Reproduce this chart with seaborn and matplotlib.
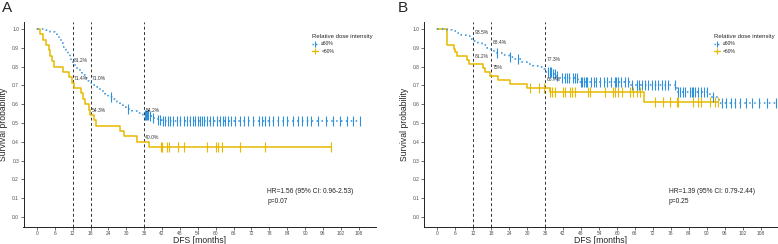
import numpy as np
import pandas as pd
import matplotlib
matplotlib.use("Agg")
import matplotlib.pyplot as plt
from matplotlib.lines import Line2D
import seaborn as sns

# ---------------- data ----------------
groups = ["\u226560%", "<60%"]
legend_title = "Relative dose intensity"
x_ticks = [0, 6, 12, 18, 24, 30, 36, 42, 48, 54, 60, 66, 72, 78, 84, 90, 96, 102, 108]
y_ticks = [0.0, 0.1, 0.2, 0.3, 0.4, 0.5, 0.6, 0.7, 0.8, 0.9, 1.0]
landmarks = [12, 18, 36]

# Panel A
A_hi_time = [0, 3.0, 4.5, 6.0, 6.8, 7.5, 8.2, 8.9, 9.6, 10.3, 11.0, 11.6, 12.0, 12.8, 13.6,
             14.4, 15.2, 16.0, 16.8, 17.6, 19.0, 20.0, 21.0, 22.0, 23.0, 24.0, 26.0, 27.0,
             28.0, 29.0, 30.0, 32.0, 33.5, 35.5, 37.5, 39.0, 40.5, 42.0]
A_hi_surv = [1.0, 0.993, 0.985, 0.977, 0.965, 0.945, 0.925, 0.905, 0.885, 0.868, 0.85, 0.83,
             0.812, 0.80, 0.785, 0.77, 0.755, 0.74, 0.725, 0.71, 0.70, 0.69, 0.68, 0.67,
             0.655, 0.64, 0.625, 0.61, 0.597, 0.585, 0.572, 0.562, 0.552, 0.542, 0.535,
             0.527, 0.518, 0.51]
A_hi_cens = [25.0, 30.5, 36.2, 36.5, 36.8, 37.2, 38.0, 39.0, 40.5, 41.4, 42.3, 43.0, 44.0,
             44.8, 45.8, 47.0, 48.0, 49.5, 50.5, 51.5, 52.5, 53.2, 54.0, 54.8, 55.5, 56.2,
             57.0, 58.0, 59.0, 60.5, 61.5, 62.3, 63.0, 64.0, 65.0, 66.5, 68.2, 69.5, 71.0,
             72.5, 74.5, 75.5, 76.5, 78.0, 79.4, 81.0, 82.5, 84.0, 86.0, 87.5, 89.0, 90.6,
             92.0, 94.5, 97.0, 99.5, 101.8, 104.0, 106.0, 108.5]
A_lo_time = [0, 0.9, 2.2, 3.0, 3.9, 4.5, 5.1, 5.8, 8.9, 10.9, 11.9, 12.5, 14.9, 15.5, 16.2,
             17.6, 17.9, 19.0, 19.9, 28.0, 29.3, 33.5, 37.5]
A_lo_surv = [1.0, 0.971, 0.943, 0.914, 0.886, 0.857, 0.829, 0.800, 0.771, 0.743, 0.714,
             0.686, 0.657, 0.629, 0.600, 0.571, 0.543, 0.514, 0.486, 0.457, 0.429, 0.400,
             0.371]
A_lo_cens = [41.6, 41.9, 43.6, 44.2, 47.3, 49.4, 57.0, 60.1, 60.9, 62.1, 68.0, 76.7, 98.8]
A_hi_labels = ["81.2%", "71.0%", "54.2%"]
A_lo_labels = ["71.4%", "54.3%", "40.0%"]
A_hr = "HR=1.56 (95% CI: 0.96-2.53)"
A_p = "p=0.07"

# Panel B
B_hi_time = [0, 3.1, 5.0, 6.5, 8.0, 9.5, 11.0, 12.0, 13.5, 15.0, 16.5, 18.0, 20.0, 22.0,
             24.0, 26.0, 28.0, 30.0, 32.0, 33.5, 35.0, 36.0, 38.5, 39.5, 41.0, 47.0, 64.3,
             80.0, 91.0, 94.0]
B_hi_surv = [1.0, 0.995, 0.99, 0.98, 0.97, 0.96, 0.947, 0.935, 0.925, 0.915, 0.90, 0.884,
             0.872, 0.862, 0.85, 0.838, 0.826, 0.815, 0.805, 0.797, 0.785, 0.773, 0.76,
             0.75, 0.738, 0.72, 0.70, 0.667, 0.64, 0.608]
B_hi_cens = [20.0, 24.3, 26.9, 37.0, 37.5, 38.0, 38.5, 39.3, 40.0, 41.5, 42.6, 43.2, 44.0,
             45.3, 46.0, 46.5, 47.8, 48.3, 49.0, 49.6, 50.0, 51.2, 52.3, 53.0, 54.2, 55.8,
             56.8, 58.0, 59.2, 59.8, 60.4, 61.5, 62.6, 63.8, 64.9, 66.6, 67.2, 68.3, 69.4,
             70.5, 71.6, 72.7, 73.8, 74.9, 76.0, 77.2, 79.4, 80.5, 81.1, 82.2, 82.7, 84.4,
             85.0, 85.5, 86.1, 87.2, 88.0, 89.0, 90.0, 92.0, 95.0, 96.5, 98.0, 99.5, 101.0,
             103.0, 105.0, 107.5, 110.0, 113.0]
B_lo_time = [0, 3.1, 5.4, 5.9, 6.4, 10.0, 10.6, 15.3, 15.9, 17.6, 20.3, 24.2, 29.8, 37.6, 69.0]
B_lo_surv = [1.0, 0.917, 0.896, 0.875, 0.854, 0.833, 0.812, 0.792, 0.771, 0.750, 0.729,
             0.708, 0.687, 0.665, 0.61]
B_lo_cens = [31.0, 34.0, 35.7, 37.7, 38.2, 39.3, 42.1, 42.7, 44.3, 44.9, 46.0, 50.4, 51.0,
             56.0, 58.8, 59.3, 60.4, 61.6, 64.3, 65.4, 66.6, 67.7, 72.7, 75.4, 77.7, 79.9,
             80.4, 85.4, 87.1, 88.2, 91.0, 92.7, 93.8]
B_hi_labels = ["93.5%", "88.4%", "77.3%"]
B_lo_labels = ["81.2%", "75%", "68.7%"]
B_hr = "HR=1.39 (95% CI: 0.79-2.44)"
B_p = "p=0.25"

# ---------------- style ----------------
sns.set_theme(style="ticks")
plt.rcParams["font.family"] = ["Liberation Sans", "DejaVu Sans"]
BLUE = "#2E8FDB"
YELLOW = "#E7B800"
TICK_C = "#4d4d4d"

fig = plt.figure(figsize=(7.78, 2.44), dpi=100)
axA = fig.add_axes([23.5 / 778, 1 - 227 / 244, 352.5 / 778, 205 / 244])
axB = fig.add_axes([424 / 778, 1 - 227 / 244, 354 / 778, 205 / 244])


def surv_at(times, survs, t):
    idx = np.searchsorted(np.asarray(times), t, side="right") - 1
    return np.asarray(survs)[idx]


def draw_group(ax, times, survs, cens, color, ls):
    end = max(max(cens), max(times))
    df = pd.DataFrame({"time": list(times) + [end], "surv": list(survs) + [survs[-1]]})
    sns.lineplot(data=df, x="time", y="surv", color=color, drawstyle="steps-post",
                 estimator=None, sort=False, linestyle=ls, linewidth=1.1, ax=ax)
    cdf = pd.DataFrame({"time": cens, "surv": surv_at(times, survs, np.asarray(cens))})
    sns.scatterplot(data=cdf, x="time", y="surv", marker="|", s=50, color=color,
                    edgecolor=color, linewidth=0.8, ax=ax, zorder=3)


def panel(ax, letter, hi, lo, hi_labels, lo_labels, hi_off, lo_off, hr, p, fx):
    for lm in landmarks:
        ax.axvline(lm, color="#333333", linestyle=(0, (3, 2.5)), linewidth=0.7, zorder=1)
    draw_group(ax, *lo, YELLOW, "-")
    draw_group(ax, *hi, BLUE, (0, (1, 2.2)))
    for i, lm in enumerate(landmarks):
        ax.text(lm + 0.4, surv_at(hi[0], hi[1], lm) + hi_off[i], hi_labels[i],
                fontsize=3.6, color="#333333", ha="left", va="center")
        ax.text(lm + 0.4, surv_at(lo[0], lo[1], lm) + lo_off[i], lo_labels[i],
                fontsize=3.6, color="#333333", ha="left", va="center")
    ax.set_xlim(-4.5, 113.8)
    ax.set_ylim(-0.053, 1.037)
    ax.set_xticks(x_ticks)
    ax.set_xticklabels([str(v) for v in x_ticks])
    ax.set_yticks(y_ticks)
    ax.set_yticklabels([f"{v:.1f}" for v in y_ticks])
    ax.tick_params(axis="both", labelsize=3.5, labelcolor=TICK_C, length=2, width=0.5,
                   color="#333333", pad=1.2)
    sns.despine(ax=ax)
    for s in ["left", "bottom"]:
        ax.spines[s].set_linewidth(0.7)
        ax.spines[s].set_color("#222222")
    ax.set_xlabel("DFS [months]", fontsize=6.2, labelpad=-0.5)
    ax.set_ylabel("Survival probability", fontsize=6.2, labelpad=3)
    ax.text(0.691, 0.171, hr, transform=ax.transAxes, fontsize=4.8, ha="left", va="center",
            color="#222222")
    ax.text(0.691, 0.122, p, transform=ax.transAxes, fontsize=4.8, ha="left", va="center",
            color="#222222")
    handles = [Line2D([0], [0], color=BLUE, linestyle=(0, (1, 1.5)), linewidth=1.0,
                      marker="|", markersize=5, markeredgewidth=0.8),
               Line2D([0], [0], color=YELLOW, linestyle="-", linewidth=1.0,
                      marker="|", markersize=5, markeredgewidth=0.8)]
    leg = ax.legend(handles, groups, title=legend_title, loc="upper left",
                    bbox_to_anchor=(0.808, 0.96), frameon=False, fontsize=3.6,
                    title_fontsize=4.3, handlelength=1.3, handletextpad=0.6,
                    labelspacing=0.55, borderpad=0.2)
    leg._legend_box.align = "left"
    fig.text(fx, 0.995, letter, fontsize=11, ha="left", va="top")


panel(axA, "A", (A_hi_time, A_hi_surv, A_hi_cens), (A_lo_time, A_lo_surv, A_lo_cens),
      A_hi_labels, A_lo_labels, [0.02, 0.024, 0.022], [0.02, 0.022, 0.025], A_hr, A_p, 0.002)
panel(axB, "B", (B_hi_time, B_hi_surv, B_hi_cens), (B_lo_time, B_lo_surv, B_lo_cens),
      B_hi_labels, B_lo_labels, [0.045, 0.045, 0.067], [0.044, 0.044, 0.042], B_hr, B_p,
      398 / 778)

fig.savefig("out.png", dpi=100)
